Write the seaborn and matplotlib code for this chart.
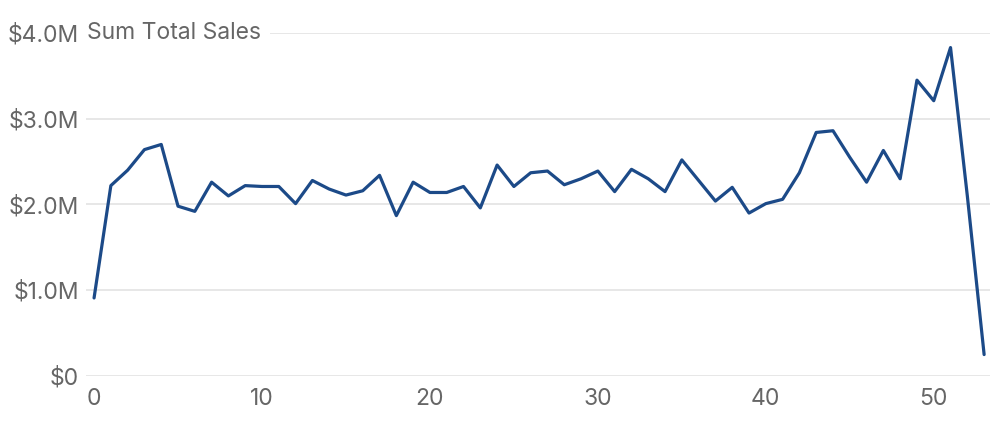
import matplotlib
matplotlib.use("Agg")
import matplotlib.pyplot as plt
import matplotlib.ticker as mticker
import seaborn as sns
import pandas as pd

# weekly sum of total sales (millions of dollars)
weeks = list(range(54))
sales_m = [
    0.91, 2.22, 2.40, 2.64, 2.70, 1.98, 1.92, 2.26, 2.10, 2.22,
    2.21, 2.21, 2.01, 2.28, 2.18, 2.11, 2.16, 2.34, 1.87, 2.26,
    2.14, 2.14, 2.21, 1.96, 2.46, 2.21, 2.37, 2.39, 2.23, 2.30,
    2.39, 2.15, 2.41, 2.30, 2.15, 2.52, 2.28, 2.04, 2.20, 1.90,
    2.01, 2.06, 2.37, 2.84, 2.86, 2.55, 2.26, 2.63, 2.30, 3.45,
    3.21, 3.83, 2.10, 0.25,
]
y_ticks = [0, 1e6, 2e6, 3e6, 4e6]
x_ticks = [0, 10, 20, 30, 40, 50]
title = "Sum Total Sales"

df = pd.DataFrame({"week": weeks, "sales": [v * 1e6 for v in sales_m]})

sns.set_theme(style="white")
plt.rcParams["font.family"] = ["Inter", "DejaVu Sans"]

text_grey = "#666666"
fig = plt.figure(figsize=(10, 4.3), dpi=100)
ax = fig.add_axes([0.086, 0.1256, 0.904, 0.7977])

sns.lineplot(data=df, x="week", y="sales", ax=ax, color="#1c4a88", linewidth=2.3)

ax.set_xlim(-0.48, 53.35)
ax.set_ylim(0, 4e6)
ax.set_yticks(y_ticks)
ax.set_xticks(x_ticks)


def money(v, pos):
    if v == 0:
        return "$0"
    return f"${v / 1e6:.1f}M"


ax.yaxis.set_major_formatter(mticker.FuncFormatter(money))
ax.grid(axis="y", color="#e3e3e3", linewidth=1.2)
ax.grid(axis="x", visible=False)
for s in ax.spines.values():
    s.set_visible(False)
ax.tick_params(axis="both", length=0, labelsize=16.5, labelcolor=text_grey)
ax.tick_params(axis="y", pad=5)
ax.tick_params(axis="x", pad=9)
ax.set_xlabel("")
ax.set_ylabel("")

ax.text(-0.44, 4e6, title, ha="left", va="center", fontsize=16.5, color=text_grey,
        bbox=dict(facecolor="white", edgecolor="none", pad=7), zorder=5)

fig.savefig("out.png", dpi=100)
